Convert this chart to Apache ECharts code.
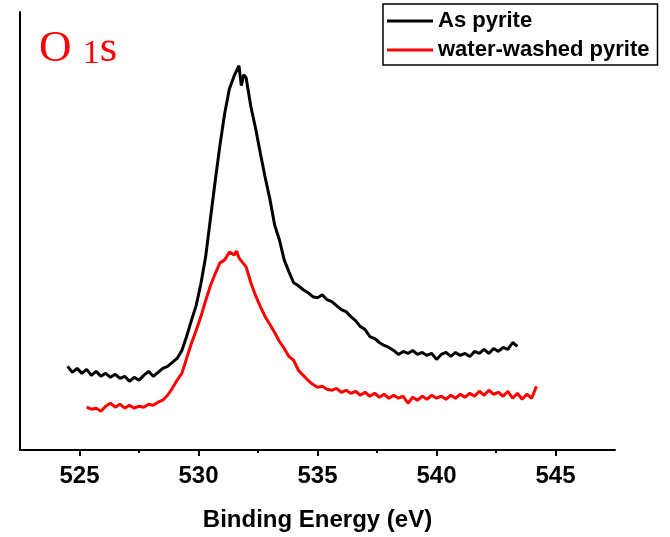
<!DOCTYPE html>
<html><head><meta charset="utf-8">
<script src="https://cdn.jsdelivr.net/npm/echarts@6/dist/echarts.min.js"></script>
<style>html,body{margin:0;padding:0;background:#fff}#c{width:670px;height:537px}</style>
</head><body><div id="c"></div>
<script>
const seriesNames = ['As pyrite', 'water-washed pyrite'];
const xTickLabels = [525, 530, 535, 540, 545];
const xMinorTicks = [527.5, 532.5, 537.5, 542.5];

const asEnergy = [524.5,524.7,524.9,525.1,525.3,525.5,525.7,525.9,526.1,526.3,526.5,526.7,526.9,527.1,527.3,527.5,527.7,527.9,528.1,528.3,528.5,528.7,528.9,529.1,529.3,529.5,529.7,529.9,530.1,530.3,530.5,530.7,530.9,531.1,531.3,531.5,531.6,531.7,531.8,531.9,532.0,532.2,532.4,532.6,532.8,533.0,533.2,533.4,533.6,533.8,534.0,534.2,534.4,534.6,534.8,535.0,535.2,535.4,535.6,535.8,536.0,536.2,536.4,536.6,536.8,537.0,537.2,537.4,537.6,537.8,538.0,538.2,538.4,538.6,538.8,539.0,539.2,539.4,539.6,539.8,540.0,540.2,540.4,540.6,540.8,541.0,541.2,541.4,541.6,541.8,542.0,542.2,542.4,542.6,542.8,543.0,543.2,543.4];
const asIntensity = [84,78,82,77,81,75,79,74,77,73,76,72,74,69,73,70,75,79,74,78,82,84,88,92,100,114,130,145,167,194,232,270,306,338,363,376,381,386,366,377,374,345,323,298,274,252,226,211,191,179,168,165,161,158,154,153,156,151,149,145,141,139,134,130,124,121,114,112,108,105,103,100,96,99,97,100,96,98,95,97,91,96,98,94,98,95,97,94,99,97,101,97,102,99,103,101,108,104];

const washedEnergy = [525.3,525.5,525.7,525.9,526.1,526.3,526.5,526.7,526.9,527.1,527.3,527.5,527.7,527.9,528.1,528.3,528.5,528.7,528.9,529.1,529.3,529.5,529.7,529.9,530.1,530.3,530.5,530.7,530.9,531.1,531.3,531.5,531.6,531.7,531.8,532.0,532.2,532.4,532.6,532.8,533.0,533.2,533.4,533.6,533.8,534.0,534.2,534.4,534.6,534.8,535.0,535.2,535.4,535.6,535.8,536.0,536.2,536.4,536.6,536.8,537.0,537.2,537.4,537.6,537.8,538.0,538.2,538.4,538.6,538.8,539.0,539.2,539.4,539.6,539.8,540.0,540.2,540.4,540.6,540.8,541.0,541.2,541.4,541.6,541.8,542.0,542.2,542.4,542.6,542.8,543.0,543.2,543.4,543.6,543.8,544.0,544.2];
const washedIntensity = [43,41,42,39,44,47,43,46,42,45,42,44,43,46,45,48,50,55,62,70,77,92,107,120,134,150,165,177,188,191,199,196,200,193,190,184,168,155,144,134,126,118,109,102,94,90,80,75,70,66,63,64,61,60,62,58,60,57,59,55,58,54,57,53,56,52,55,52,54,47,53,50,54,51,55,52,54,51,55,52,56,53,57,54,59,55,60,56,58,54,59,52,57,51,56,52,64];

function zip(xs, ys) { return xs.map((x, i) => [x, ys[i]]); }

const chart = echarts.init(document.getElementById('c'), null, {renderer: 'canvas'});
chart.setOption({
  animation: false,
  backgroundColor: '#fff',
  title: {
    text: '{a|O }{b|1}{a|s}',
    left: 34, top: 22,
    textStyle: {
      fontWeight: 'normal',
      rich: {
        a: {fontFamily: 'Liberation Serif', fontWeight: 'normal', fontSize: 45, color: '#ff0000', verticalAlign: 'bottom'},
        b: {fontFamily: 'Liberation Serif', fontWeight: 'normal', fontSize: 34, color: '#ff0000', verticalAlign: 'bottom', padding: [0, 0, 1, 0]}
      }
    }
  },
  legend: {
    orient: 'vertical', left: 383, top: 4,
    data: seriesNames,
    icon: 'rect', itemWidth: 46, itemHeight: 3, itemGap: 5, itemTextGap: 7,
    padding: [5, 8, 3, 4],
    borderColor: '#000', borderWidth: 1.5, borderRadius: 0,
    textStyle: {fontFamily: 'Liberation Sans, Arial', fontWeight: 'bold', fontSize: 22, color: '#000', lineHeight: 24}
  },
  grid: {left: 20, right: 55, top: 12, bottom: 85, containLabel: false},
  xAxis: [{
    type: 'value', min: 522.5, max: 547.5,
    name: 'Binding Energy (eV)', nameLocation: 'middle', nameGap: 58,
    nameTextStyle: {fontFamily: 'Liberation Sans, Arial', fontWeight: 'bold', fontSize: 24, color: '#000'},
    axisLine: {show: true, lineStyle: {color: '#000', width: 2}},
    axisTick: {show: true, customValues: xTickLabels, length: 6, lineStyle: {color: '#000', width: 2}},
    axisLabel: {customValues: xTickLabels, margin: 14, fontFamily: 'Liberation Sans, Arial', fontWeight: 'bold', fontSize: 24, color: '#000'},
    splitLine: {show: false}
  }, {
    type: 'value', min: 522.5, max: 547.5, position: 'bottom',
    axisLine: {show: false},
    axisTick: {show: true, customValues: xMinorTicks, length: 3, lineStyle: {color: '#000', width: 2}},
    axisLabel: {show: false},
    splitLine: {show: false}
  }],
  yAxis: {
    type: 'value', min: 0, max: 440,
    axisLine: {show: true, lineStyle: {color: '#000', width: 2}},
    axisTick: {show: false}, axisLabel: {show: false}, splitLine: {show: false}
  },
  series: [{
    name: seriesNames[0], type: 'line', xAxisIndex: 0, showSymbol: false, symbol: 'none',
    data: zip(asEnergy, asIntensity),
    lineStyle: {color: '#000', width: 3}, itemStyle: {color: '#000'}
  }, {
    name: seriesNames[1], type: 'line', xAxisIndex: 0, showSymbol: false, symbol: 'none',
    data: zip(washedEnergy, washedIntensity),
    lineStyle: {color: '#ff0000', width: 3}, itemStyle: {color: '#ff0000'}
  }]
});
</script></body></html>
